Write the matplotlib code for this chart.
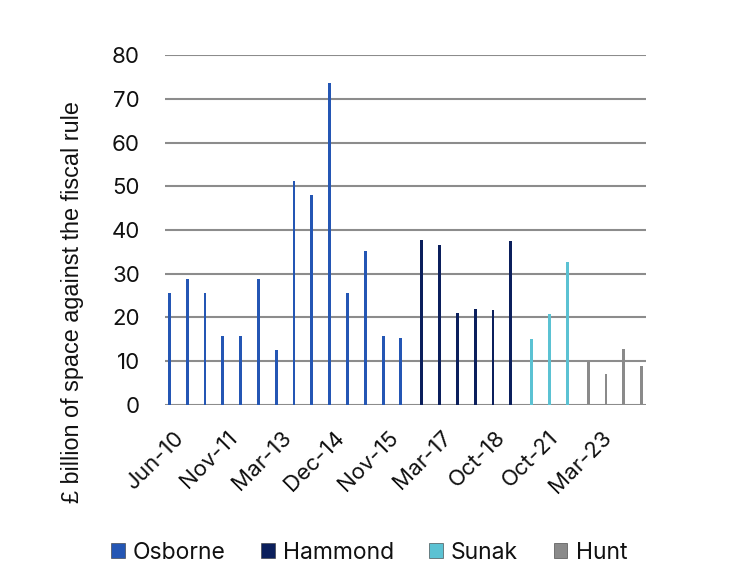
import numpy as np
import matplotlib
matplotlib.use("Agg")
import matplotlib.pyplot as plt
from matplotlib.patches import Patch

# fiscal events (27 categories, only every third one labelled)
events = ["Jun-10", "Nov-10", "Mar-11", "Nov-11", "Mar-12", "Dec-12", "Mar-13",
          "Dec-13", "Mar-14", "Dec-14", "Mar-15", "Jul-15", "Nov-15", "Mar-16",
          "Nov-16", "Mar-17", "Nov-17", "Mar-18", "Oct-18", "Mar-19",
          "Mar-21", "Oct-21", "Mar-22",
          "Nov-22", "Mar-23", "Nov-23", "Mar-24"]

# headroom against the fiscal rule, £bn
osborne = [25.5, 28.8, 25.5, 15.8, 15.8, 28.8, 12.6, 51.1, 47.9, 73.6,
           25.5, 35.1, 15.8, 15.2]
hammond = [37.7, 36.6, 21.1, 21.9, 21.6, 37.4]
sunak = [15.0, 20.9, 32.6]
hunt = [9.9, 7.1, 12.9, 8.8]

names = ["Osborne", "Hammond", "Sunak", "Hunt"]
colors = ["#2456b4", "#0b1f5c", "#5bc2d3", "#8a8a8a"]
series = [osborne, hammond, sunak, hunt]

plt.rcParams["font.family"] = ["Inter", "DejaVu Sans"]

fig = plt.figure(figsize=(7.32, 5.86), dpi=100)
ax = fig.add_axes([0.2254, 0.3089, 0.657, 0.5972])

# excel style clustered bars: each minister gets its own slot in the category
step = 0.17
start = 0
for k, (vals, col) in enumerate(zip(series, colors)):
    xs = np.arange(start, start + len(vals)) + (k - 1.5) * step
    ax.bar(xs, vals, width=0.16, color=col, zorder=3)
    start += len(vals)

ax.set_xlim(-0.5, len(events) - 0.5)
ax.set_ylim(0, 80)
ax.set_yticks(range(0, 81, 10))
ax.yaxis.grid(True, color="#8c8c8c", linewidth=1.5, zorder=0)
ax.set_axisbelow(True)
for s in ax.spines.values():
    s.set_visible(False)

ticks = list(range(0, len(events), 3))
ax.set_xticks(ticks)
ax.set_xticklabels([events[i] for i in ticks], rotation=45, ha="right",
                   va="top", rotation_mode="anchor", fontsize=16, color="#111111")
ax.tick_params(axis="x", length=0, pad=16)
ax.tick_params(axis="y", length=0, pad=18, labelsize=16, labelcolor="#111111")

fig.text(73 / 732, 1 - 302 / 586, "£ billion of space against the fiscal rule",
         family="Liberation Sans", fontsize=16.8, rotation=90,
         ha="center", va="center", color="#111111")

handles = [Patch(facecolor=c, edgecolor="#333333", linewidth=0.4) for c in colors]
fig.legend(handles, names, loc="center", bbox_to_anchor=(0.504, 0.057), ncol=4,
           frameon=False, fontsize=16.5, handlelength=0.6, handleheight=0.6,
           handletextpad=0.35, columnspacing=1.55, labelcolor="#111111")

fig.savefig("out.png", dpi=100)
